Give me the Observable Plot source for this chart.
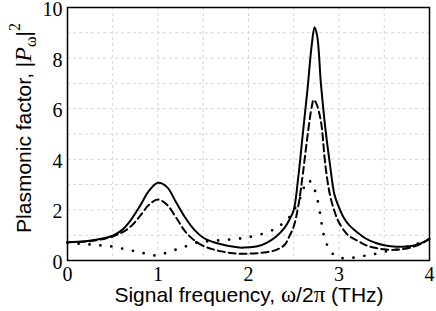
<!DOCTYPE html>
<html><head><meta charset="utf-8">
<script src="https://cdn.jsdelivr.net/npm/d3@7"></script>
<script src="https://cdn.jsdelivr.net/npm/@observablehq/plot@0.6"></script>
<style>body{margin:0;background:#fff}</style>
</head><body><div id="chart"></div>
<script>
const solidX = [0,0.2,0.4,0.5,0.6,0.7,0.8,0.9,1.0,1.1,1.2,1.3,1.4,1.5,1.6,1.7,1.8,1.9,2.0,2.1,2.2,2.3,2.4,2.45,2.5,2.55,2.6,2.65,2.7,2.73,2.76,2.8,2.85,2.9,2.95,3.0,3.05,3.1,3.2,3.3,3.4,3.5,3.6,3.7,3.8,3.9,4.0];
const solidY = [0.72,0.76,0.88,0.98,1.2,1.6,2.15,2.75,3.07,2.9,2.3,1.7,1.22,0.9,0.74,0.64,0.56,0.51,0.52,0.56,0.7,0.93,1.3,1.6,2.0,3.3,5.0,6.7,8.56,9.22,8.85,7.0,5.2,3.8,2.6,2.1,1.71,1.45,1.12,0.86,0.7,0.6,0.55,0.54,0.57,0.67,0.85];
const dashX = [0,0.2,0.4,0.5,0.6,0.7,0.8,0.9,1.0,1.1,1.2,1.3,1.4,1.5,1.6,1.7,1.8,1.9,2.0,2.1,2.2,2.3,2.4,2.45,2.5,2.55,2.6,2.65,2.7,2.72,2.75,2.8,2.85,2.9,2.95,3.0,3.1,3.2,3.3,3.4,3.5,3.6,3.7,3.8,3.9,4.0];
const dashY = [0.72,0.75,0.85,0.95,1.1,1.35,1.75,2.2,2.41,2.2,1.7,1.15,0.8,0.58,0.45,0.36,0.3,0.27,0.27,0.29,0.33,0.41,0.62,0.95,1.35,2.15,3.4,4.87,6.1,6.35,6.2,5.5,3.75,2.6,1.95,1.5,1.0,0.79,0.6,0.5,0.44,0.42,0.45,0.52,0.65,0.84];
const dotX = [0,0.14,0.27,0.38,0.5,0.62,0.74,0.84,0.96,1.0,1.08,1.19,1.3,1.41,1.52,1.76,2.0,2.24,2.34,2.45,2.5,2.56,2.6,2.65,2.69,2.72,2.76,2.8,2.82,2.85,2.9,2.98,3.1,3.22,3.34,3.45,3.57,3.68,3.8,3.9,4.0];
const dotY = [0.7,0.66,0.63,0.59,0.55,0.46,0.37,0.29,0.2,0.2,0.29,0.42,0.55,0.7,0.75,0.82,0.92,1.16,1.36,1.7,1.98,2.37,2.77,3.16,3.1,2.9,2.44,1.65,1.19,0.79,0.4,0.13,0.09,0.15,0.22,0.3,0.4,0.46,0.6,0.7,0.85];
const xTicks = [0,1,2,3,4];
const yTicks = [0,2,4,6,8,10];
const xGrid = [0.5,1,1.5,2,2.5,3,3.5];
const yGrid = [1,2,3,4,5,6,7,8,9];

const toRows = (xs, ys) => xs.map((x, i) => ({x, y: ys[i]}));
const solid = toRows(solidX, solidY);
const dashed = toRows(dashX, dashY);
const dotted = toRows(dotX, dotY);

const serif = "'Liberation Serif', 'Times New Roman', serif";
const sans = "'Liberation Sans', Arial, Helvetica, sans-serif";

const plot = Plot.plot({
  width: 436, height: 311,
  marginLeft: 67, marginRight: 7, marginTop: 7, marginBottom: 51,
  x: {domain: [0, 4]},
  y: {domain: [0, 10]},
  style: {background: "white"},
  marks: [
    Plot.gridX(xGrid, {stroke: "#cfd8d8", strokeOpacity: 1, strokeDasharray: "3,3", strokeWidth: 1}),
    Plot.gridY(yGrid, {stroke: "#cfd8d8", strokeOpacity: 1, strokeDasharray: "3,3", strokeWidth: 1}),
    Plot.axisX(xTicks, {tickSize: 0, tickPadding: 6, fontSize: 20, fontFamily: serif, fill: "black", label: null}),
    Plot.axisY(yTicks, {tickSize: 0, tickPadding: 5, dy: 2, fontSize: 20, fontFamily: serif, fill: "black", label: null}),
    Plot.line(dotted, {x: "x", y: "y", curve: "catmull-rom", stroke: "black", strokeWidth: 2.8, strokeDasharray: "0,11", strokeLinecap: "round"}),
    Plot.line(dashed, {x: "x", y: "y", curve: "catmull-rom", stroke: "black", strokeWidth: 2, strokeDasharray: "7,4"}),
    Plot.line(solid, {x: "x", y: "y", curve: "catmull-rom", stroke: "black", strokeWidth: 2}),
    Plot.frame({stroke: "black", strokeWidth: 1.5})
  ]
});
document.getElementById("chart").appendChild(plot);

const svg = d3.select(plot);
const xl = svg.append("text")
  .attr("x", 249).attr("y", 302)
  .attr("text-anchor", "middle")
  .attr("font-family", sans).attr("font-size", 21).attr("fill", "black");
xl.append("tspan").text("Signal frequency, ");
xl.append("tspan").attr("font-family", serif).attr("font-size", 23).text("ω");
xl.append("tspan").text("/2");
xl.append("tspan").attr("font-family", serif).attr("font-size", 23).text("π");
xl.append("tspan").text(" (THz)");

const yl = svg.append("text")
  .attr("transform", "translate(31,128) rotate(-90)")
  .attr("text-anchor", "middle")
  .attr("font-family", sans).attr("font-size", 21).attr("fill", "black");
yl.append("tspan").text("Plasmonic factor, |");
yl.append("tspan").attr("font-family", serif).attr("font-style", "italic").attr("font-size", 24).text("P");
yl.append("tspan").attr("font-family", serif).attr("font-size", 16).attr("dy", 5).text("ω");
yl.append("tspan").attr("dy", -5).text("|");
yl.append("tspan").attr("font-family", serif).attr("font-size", 16).attr("dy", -11).text("2");
</script>
</body></html>
